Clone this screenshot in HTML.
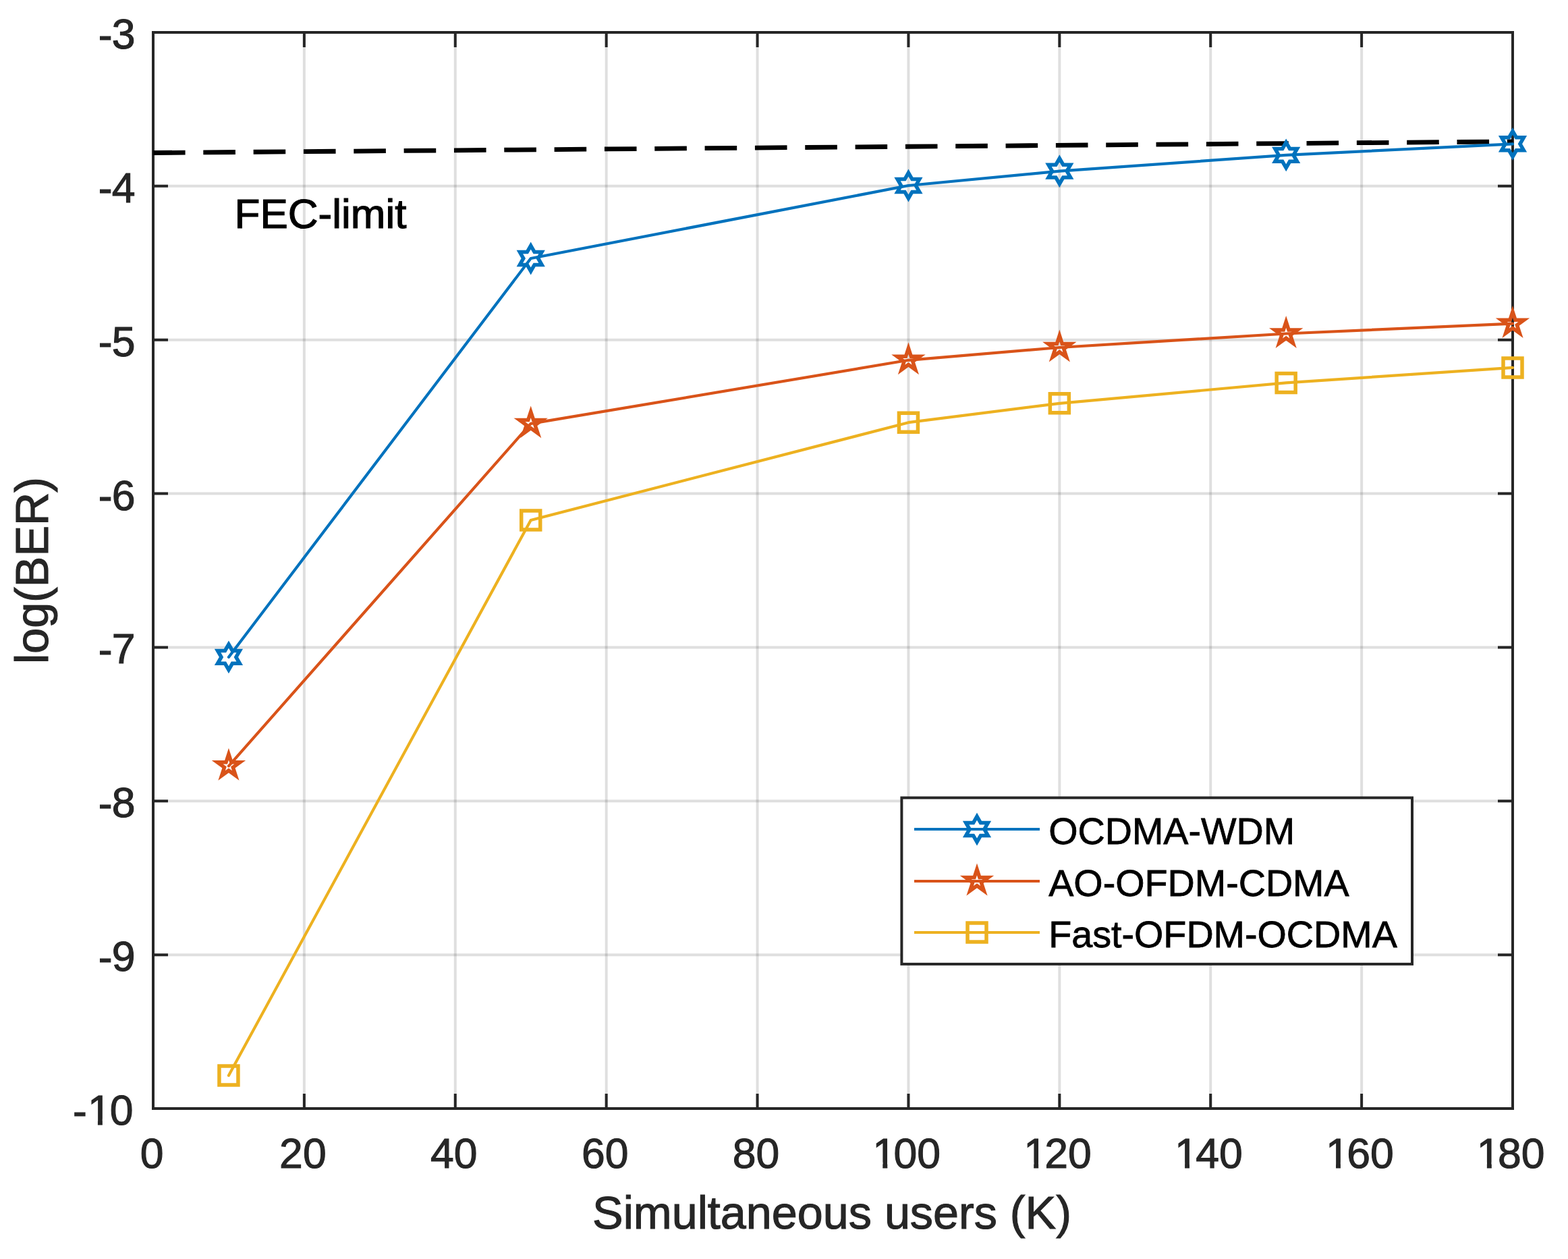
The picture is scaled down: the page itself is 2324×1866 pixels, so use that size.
<!DOCTYPE html>
<html><head><meta charset="utf-8"><title>log(BER) vs Simultaneous users</title>
<style>html,body{margin:0;padding:0;background:#fff;}svg{display:block;}</style></head>
<body>
<svg width="2324" height="1866" viewBox="0 0 2324 1866">
<rect x="0" y="0" width="2324" height="1866" fill="#ffffff"/>
<path d="M450.89,50.00 V1641.00 M674.78,50.00 V1641.00 M898.67,50.00 V1641.00 M1122.56,50.00 V1641.00 M1346.44,50.00 V1641.00 M1570.33,50.00 V1641.00 M1794.22,50.00 V1641.00 M2018.11,50.00 V1641.00" stroke="#262626" stroke-opacity="0.15" stroke-width="4" fill="none"/>
<path d="M229.00,275.86 H2240.00 M229.00,503.71 H2240.00 M229.00,731.57 H2240.00 M229.00,959.43 H2240.00 M229.00,1187.29 H2240.00 M229.00,1415.14 H2240.00" stroke="#262626" stroke-opacity="0.15" stroke-width="4" fill="none"/>
<path d="M450.89,1643.00 V1621.00 M450.89,48.00 V70.00 M674.78,1643.00 V1621.00 M674.78,48.00 V70.00 M898.67,1643.00 V1621.00 M898.67,48.00 V70.00 M1122.56,1643.00 V1621.00 M1122.56,48.00 V70.00 M1346.44,1643.00 V1621.00 M1346.44,48.00 V70.00 M1570.33,1643.00 V1621.00 M1570.33,48.00 V70.00 M1794.22,1643.00 V1621.00 M1794.22,48.00 V70.00 M2018.11,1643.00 V1621.00 M2018.11,48.00 V70.00 M227.00,275.86 H249.00 M2242.00,275.86 H2220.00 M227.00,503.71 H249.00 M2242.00,503.71 H2220.00 M227.00,731.57 H249.00 M2242.00,731.57 H2220.00 M227.00,959.43 H249.00 M2242.00,959.43 H2220.00 M227.00,1187.29 H249.00 M2242.00,1187.29 H2220.00 M227.00,1415.14 H249.00 M2242.00,1415.14 H2220.00" stroke="#262626" stroke-width="4" fill="none"/>
<rect x="227.0" y="48.0" width="2015.0" height="1595.0" stroke="#262626" stroke-width="4" fill="none" stroke-linejoin="miter"/>
<g font-family="'Liberation Sans', Arial, Helvetica, sans-serif" font-size="62.5" fill="#262626" stroke="#262626" stroke-width="1.1">
<clipPath id="c1x" clipPathUnits="userSpaceOnUse"><path clip-rule="evenodd" d="M-400,-200 H400 V200 H-400 Z M5.36,-8.80 H18.62 V3 H5.36 Z M25.54,-8.80 H37.00 V3 H25.54 Z"/></clipPath>
<clipPath id="c1y" clipPathUnits="userSpaceOnUse"><path clip-rule="evenodd" d="M-400,-200 H400 V200 H-400 Z M24.57,-8.80 H37.83 V3 H24.57 Z M44.75,-8.80 H57.32 V3 H44.75 Z"/></clipPath>
<text transform="translate(225.00,1731.40)" text-anchor="middle">0</text>
<text transform="translate(448.89,1731.40)" text-anchor="middle">20</text>
<text transform="translate(672.78,1731.40)" text-anchor="middle">40</text>
<text transform="translate(896.67,1731.40)" text-anchor="middle">60</text>
<text transform="translate(1120.56,1731.40)" text-anchor="middle">80</text>
<text transform="translate(1289.71,1731.40)" clip-path="url(#c1x)"><tspan dx="3.6">1</tspan><tspan dx="-3.6">00</tspan></text>
<text transform="translate(1513.59,1731.40)" clip-path="url(#c1x)"><tspan dx="3.6">1</tspan><tspan dx="-3.6">20</tspan></text>
<text transform="translate(1737.48,1731.40)" clip-path="url(#c1x)"><tspan dx="3.6">1</tspan><tspan dx="-3.6">40</tspan></text>
<text transform="translate(1961.37,1731.40)" clip-path="url(#c1x)"><tspan dx="3.6">1</tspan><tspan dx="-3.6">60</tspan></text>
<text transform="translate(2185.26,1731.40)" clip-path="url(#c1x)"><tspan dx="3.6">1</tspan><tspan dx="-3.6">80</tspan></text>
<text transform="translate(144.9,72.00)"><tspan dx="0.9" dy="0.6">-</tspan><tspan dx="-0.9" dy="-0.6">3</tspan></text>
<text transform="translate(144.9,299.86)"><tspan dx="0.9" dy="0.6">-</tspan><tspan dx="-0.9" dy="-0.6">4</tspan></text>
<text transform="translate(144.9,527.71)"><tspan dx="0.9" dy="0.6">-</tspan><tspan dx="-0.9" dy="-0.6">5</tspan></text>
<text transform="translate(144.9,755.57)"><tspan dx="0.9" dy="0.6">-</tspan><tspan dx="-0.9" dy="-0.6">6</tspan></text>
<text transform="translate(144.9,983.43)"><tspan dx="0.9" dy="0.6">-</tspan><tspan dx="-0.9" dy="-0.6">7</tspan></text>
<text transform="translate(144.9,1211.29)"><tspan dx="0.9" dy="0.6">-</tspan><tspan dx="-0.9" dy="-0.6">8</tspan></text>
<text transform="translate(144.9,1439.14)"><tspan dx="0.9" dy="0.6">-</tspan><tspan dx="-0.9" dy="-0.6">9</tspan></text>
<text transform="translate(107.1,1667.00)" clip-path="url(#c1y)"><tspan dx="0.9" dy="0.6">-</tspan><tspan dx="1.1" dy="-0.6">1</tspan><tspan dx="-2.0">0</tspan></text>
</g>
<g font-family="'Liberation Sans', Arial, Helvetica, sans-serif" font-size="68.3" fill="#262626" stroke="#262626" stroke-width="1.1">
<text transform="translate(1233.00,1820.7)" text-anchor="middle">Simultaneous users (K)</text>
<text transform="translate(70.9,845.50) rotate(-90)" text-anchor="middle">log(BER)</text>
</g>
<text transform="translate(347.6,337.5)" font-family="'Liberation Sans', Arial, Helvetica, sans-serif" font-size="62" fill="#000" stroke="#000" stroke-width="1.2">FEC-limit</text>
<path d="M227.00,226.50 L2242.00,209.80" stroke="#000" stroke-width="6.8" stroke-dasharray="47.6 26.73" fill="none"/>
<path d="M338.94,973.90 L786.72,383.00 L1346.44,275.00 L1570.33,253.60 L1906.17,229.90 L2242.00,213.30" stroke="#0072BD" stroke-width="4.2" fill="none" stroke-linejoin="round" stroke-linecap="round"/>
<path d="M338.94,1135.30 L786.72,627.90 L1346.44,533.80 L1570.33,515.00 L1906.17,494.50 L2242.00,479.60" stroke="#D95319" stroke-width="4.2" fill="none" stroke-linejoin="round" stroke-linecap="round"/>
<path d="M338.94,1594.00 L786.72,771.00 L1346.44,626.20 L1570.33,597.80 L1906.17,567.40 L2242.00,544.90" stroke="#EDB120" stroke-width="4.2" fill="none" stroke-linejoin="round" stroke-linecap="round"/>
<path d="M338.94,955.00 L344.40,964.45 L355.31,964.45 L349.86,973.90 L355.31,983.35 L344.40,983.35 L338.94,992.80 L333.49,983.35 L322.58,983.35 L328.03,973.90 L322.58,964.45 L333.49,964.45 Z M786.72,364.10 L792.18,373.55 L803.09,373.55 L797.63,383.00 L803.09,392.45 L792.18,392.45 L786.72,401.90 L781.27,392.45 L770.35,392.45 L775.81,383.00 L770.35,373.55 L781.27,373.55 Z M1346.44,256.10 L1351.90,265.55 L1362.81,265.55 L1357.36,275.00 L1362.81,284.45 L1351.90,284.45 L1346.44,293.90 L1340.99,284.45 L1330.08,284.45 L1335.53,275.00 L1330.08,265.55 L1340.99,265.55 Z M1570.33,234.70 L1575.79,244.15 L1586.70,244.15 L1581.25,253.60 L1586.70,263.05 L1575.79,263.05 L1570.33,272.50 L1564.88,263.05 L1553.97,263.05 L1559.42,253.60 L1553.97,244.15 L1564.88,244.15 Z M1906.17,211.00 L1911.62,220.45 L1922.53,220.45 L1917.08,229.90 L1922.53,239.35 L1911.62,239.35 L1906.17,248.80 L1900.71,239.35 L1889.80,239.35 L1895.25,229.90 L1889.80,220.45 L1900.71,220.45 Z M2242.00,194.40 L2247.46,203.85 L2258.37,203.85 L2252.91,213.30 L2258.37,222.75 L2247.46,222.75 L2242.00,232.20 L2236.54,222.75 L2225.63,222.75 L2231.09,213.30 L2225.63,203.85 L2236.54,203.85 Z" stroke="#0072BD" stroke-width="5.5" fill="none" stroke-linejoin="miter" stroke-miterlimit="10"/>
<path d="M338.94,1117.70 L342.90,1129.86 L355.68,1129.86 L345.34,1137.38 L349.29,1149.54 L338.94,1142.02 L328.60,1149.54 L332.55,1137.38 L322.21,1129.86 L334.99,1129.86 Z M786.72,610.30 L790.67,622.46 L803.46,622.46 L793.12,629.98 L797.07,642.14 L786.72,634.62 L776.38,642.14 L780.33,629.98 L769.98,622.46 L782.77,622.46 Z M1346.44,516.20 L1350.40,528.36 L1363.18,528.36 L1352.84,535.88 L1356.79,548.04 L1346.44,540.52 L1336.10,548.04 L1340.05,535.88 L1329.71,528.36 L1342.49,528.36 Z M1570.33,497.40 L1574.28,509.56 L1587.07,509.56 L1576.73,517.08 L1580.68,529.24 L1570.33,521.72 L1559.99,529.24 L1563.94,517.08 L1553.59,509.56 L1566.38,509.56 Z M1906.17,476.90 L1910.12,489.06 L1922.91,489.06 L1912.56,496.58 L1916.51,508.74 L1906.17,501.22 L1895.82,508.74 L1899.77,496.58 L1889.43,489.06 L1902.22,489.06 Z M2242.00,462.00 L2245.95,474.16 L2258.74,474.16 L2248.39,481.68 L2252.35,493.84 L2242.00,486.32 L2231.65,493.84 L2235.61,481.68 L2225.26,474.16 L2238.05,474.16 Z" stroke="#D95319" stroke-width="5.5" fill="none" stroke-linejoin="miter" stroke-miterlimit="10"/>
<path d="M324.94,1580.00 L352.94,1580.00 L352.94,1608.00 L324.94,1608.00 Z M772.72,757.00 L800.72,757.00 L800.72,785.00 L772.72,785.00 Z M1332.44,612.20 L1360.44,612.20 L1360.44,640.20 L1332.44,640.20 Z M1556.33,583.80 L1584.33,583.80 L1584.33,611.80 L1556.33,611.80 Z M1892.17,553.40 L1920.17,553.40 L1920.17,581.40 L1892.17,581.40 Z M2228.00,530.90 L2256.00,530.90 L2256.00,558.90 L2228.00,558.90 Z" stroke="#EDB120" stroke-width="5.5" fill="none" stroke-linejoin="miter" stroke-miterlimit="10"/>
<rect x="1336.4" y="1182.4" width="756.60" height="246.50" fill="#fff" stroke="#262626" stroke-width="4"/>
<path d="M1355,1229.0 H1541" stroke="#0072BD" stroke-width="4" fill="none"/>
<path d="M1448.00,1210.10 L1453.46,1219.55 L1464.37,1219.55 L1458.91,1229.00 L1464.37,1238.45 L1453.46,1238.45 L1448.00,1247.90 L1442.54,1238.45 L1431.63,1238.45 L1437.09,1229.00 L1431.63,1219.55 L1442.54,1219.55 Z" stroke="#0072BD" stroke-width="5.5" fill="none" stroke-linejoin="miter" stroke-miterlimit="10"/>
<text transform="translate(1554.2,1251.00)" font-family="'Liberation Sans', Arial, Helvetica, sans-serif" font-size="55.7" fill="#000" stroke="#000" stroke-width="0.8">OCDMA-WDM</text>
<path d="M1355,1306.0 H1541" stroke="#D95319" stroke-width="4" fill="none"/>
<path d="M1448.00,1288.40 L1451.95,1300.56 L1464.74,1300.56 L1454.39,1308.08 L1458.35,1320.24 L1448.00,1312.72 L1437.65,1320.24 L1441.61,1308.08 L1431.26,1300.56 L1444.05,1300.56 Z" stroke="#D95319" stroke-width="5.5" fill="none" stroke-linejoin="miter" stroke-miterlimit="10"/>
<text transform="translate(1554.2,1328.00)" font-family="'Liberation Sans', Arial, Helvetica, sans-serif" font-size="55.7" fill="#000" stroke="#000" stroke-width="0.8">AO-OFDM-CDMA</text>
<path d="M1355,1382.0 H1541" stroke="#EDB120" stroke-width="4" fill="none"/>
<path d="M1434.00,1368.00 L1462.00,1368.00 L1462.00,1396.00 L1434.00,1396.00 Z" stroke="#EDB120" stroke-width="5.5" fill="none" stroke-linejoin="miter" stroke-miterlimit="10"/>
<text transform="translate(1554.2,1404.00)" font-family="'Liberation Sans', Arial, Helvetica, sans-serif" font-size="55.7" fill="#000" stroke="#000" stroke-width="0.8">Fast-OFDM-OCDMA</text>
</svg>
</body></html>
